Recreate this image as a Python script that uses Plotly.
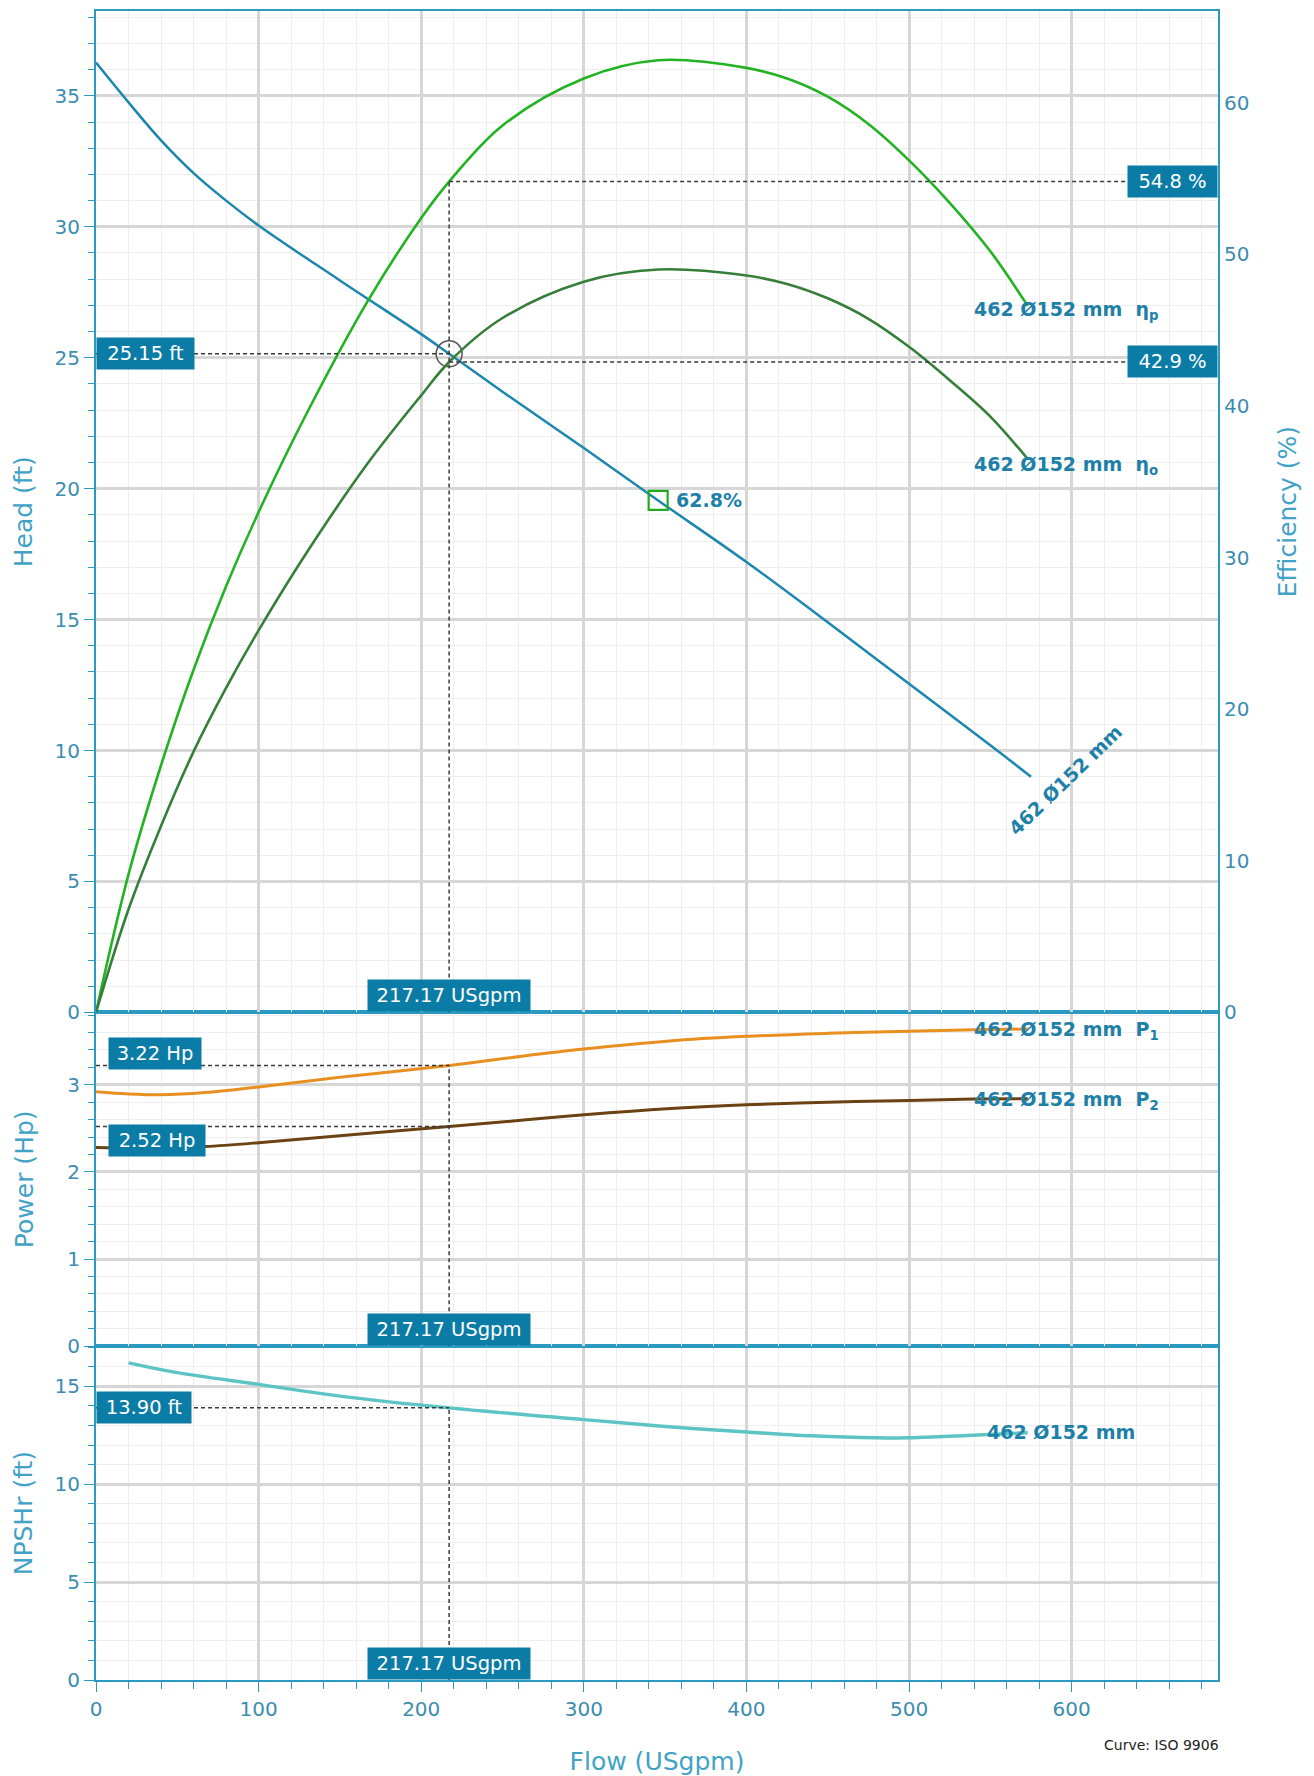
import plotly.graph_objects as go

# ---------------- data ----------------
# Head curve (ft) vs flow (USgpm)
flow_head = [0, 20, 40, 60, 80, 100, 150, 200, 217.17, 250, 300, 345.7, 400, 450, 500, 550, 575]
head_ft = [36.27, 34.75, 33.3, 32.05, 31.0, 30.05, 27.95, 25.9, 25.15, 23.7, 21.55, 19.55, 17.2, 14.9, 12.55, 10.2, 9.0]

# Efficiency curves (%): pump (eta_p) and overall (eta_o)
flow_eff = [0, 20, 40, 60, 80, 100, 130, 167, 200, 217.17, 250, 300, 345.7, 400, 425, 450, 475, 500, 525, 550, 573]
eta_p = [0, 9.1, 16.3, 22.6, 28.1, 33.0, 39.6, 46.9, 52.4, 54.8, 58.5, 61.6, 62.8, 62.3, 61.6, 60.4, 58.6, 56.2, 53.4, 50.2, 46.6]
eta_o = [0, 6.8, 12.3, 17.2, 21.4, 25.2, 30.4, 36.2, 40.7, 42.9, 45.8, 48.2, 49.0, 48.6, 48.05, 47.1, 45.75, 43.9, 41.7, 39.3, 36.5]

# Power curves (Hp): P1 input, P2 shaft
flow_pow = [0, 20, 40, 67, 100, 150, 217.17, 263, 300, 351, 400, 450, 500, 540, 573]
p1_hp = [2.92, 2.895, 2.885, 2.91, 2.975, 3.085, 3.22, 3.33, 3.41, 3.50, 3.555, 3.59, 3.615, 3.63, 3.64]
p2_hp = [2.28, 2.27, 2.27, 2.29, 2.335, 2.415, 2.52, 2.595, 2.655, 2.725, 2.77, 2.80, 2.82, 2.835, 2.84]

# NPSHr curve (ft)
flow_npsh = [20, 50, 100, 150, 217.17, 300, 350, 400, 440, 480, 500, 546, 573]
npsh_ft = [16.2, 15.7, 15.1, 14.5, 13.9, 13.3, 12.95, 12.67, 12.47, 12.37, 12.38, 12.53, 12.63]

# Duty point and best efficiency point
q_op = 217.17
h_op = 25.15
etap_op = 54.8
etao_op = 42.9
p1_op = 3.22
p2_op = 2.52
npsh_op = 13.90
q_bep = 345.7
h_bep = 19.55
eta_bep = 62.8

impeller = "462 Ø152 mm"

# ---------------- styling ----------------
FONT = "DejaVu Sans, Verdana, sans-serif"
AXIS_LINE = "#2a9ac0"
TICK_COL = "#3b8cb0"
TITLE_COL = "#3fa2c6"
BOX_COL = "#0b7ca6"
LABEL_COL = "#1d80a8"
GRID_MAJOR = "#d6d6d6"
GRID_MINOR = "#eeeeee"
DASH_COL = "#3a3a3a"

X_MAX = 690

fig = go.Figure()

line_kw = dict(shape="spline", smoothing=1.0)

fig.add_trace(go.Scatter(x=flow_head, y=head_ft, xaxis="x3", yaxis="y", mode="lines",
                         line=dict(color="#1b87ad", width=2.5, **line_kw), name="Head"))
fig.add_trace(go.Scatter(x=flow_eff, y=eta_p, xaxis="x3", yaxis="y2", mode="lines",
                         line=dict(color="#22b322", width=2.6, **line_kw), name="eta_p"))
fig.add_trace(go.Scatter(x=flow_eff, y=eta_o, xaxis="x3", yaxis="y2", mode="lines",
                         line=dict(color="#357f3a", width=2.6, **line_kw), name="eta_o"))
fig.add_trace(go.Scatter(x=[q_op], y=[h_op], xaxis="x3", yaxis="y", mode="markers",
                         marker=dict(symbol="circle-open", size=26, color="#555555",
                                     line=dict(width=1.5)), name="Duty point"))
fig.add_trace(go.Scatter(x=[q_bep], y=[h_bep], xaxis="x3", yaxis="y", mode="markers",
                         marker=dict(symbol="square-open", size=19, color="#22aa22",
                                     line=dict(width=2.2)), name="BEP"))

fig.add_trace(go.Scatter(x=flow_pow, y=p1_hp, xaxis="x2", yaxis="y3", mode="lines",
                         line=dict(color="#e8901f", width=3, **line_kw), name="P1"))
fig.add_trace(go.Scatter(x=flow_pow, y=p2_hp, xaxis="x2", yaxis="y3", mode="lines",
                         line=dict(color="#6b4212", width=3, **line_kw), name="P2"))

fig.add_trace(go.Scatter(x=flow_npsh, y=npsh_ft, xaxis="x", yaxis="y4", mode="lines",
                         line=dict(color="#5cc4c4", width=3.5, **line_kw), name="NPSHr"))

# ---------------- axes ----------------
tick_font = dict(family=FONT, size=20, color=TICK_COL)
title_font = dict(family=FONT, size=25, color=TITLE_COL)

def x_axis(anchor, labels):
    d = dict(anchor=anchor, range=[0, X_MAX], dtick=100, tick0=0, automargin=False,
             showline=True, mirror=True, linecolor=AXIS_LINE, linewidth=2,
             showgrid=True, gridcolor=GRID_MAJOR, gridwidth=2.5, zeroline=False,
             tickfont=tick_font,
             minor=dict(dtick=20, showgrid=True, gridcolor=GRID_MINOR, gridwidth=1,
                        ticks="outside" if labels else "", ticklen=7, tickcolor=AXIS_LINE))
    if labels:
        d.update(ticks="outside", ticklen=10, tickcolor=AXIS_LINE, showticklabels=True,
                 title=dict(text="Flow (USgpm)", font=title_font, standoff=33))
    else:
        d.update(ticks="", showticklabels=False, matches="x")
    return d

def y_axis(domain, anchor, rng, dtick, minor, title, standoff):
    return dict(domain=domain, anchor=anchor, range=rng, dtick=dtick, tick0=0, automargin=False,
                showline=True, mirror=True, linecolor=AXIS_LINE, linewidth=2,
                showgrid=True, gridcolor=GRID_MAJOR, gridwidth=2.5, zeroline=False,
                ticks="outside", ticklen=10, tickcolor=AXIS_LINE, tickfont=tick_font,
                minor=dict(dtick=minor, showgrid=True, gridcolor=GRID_MINOR, gridwidth=1,
                           ticks="outside", ticklen=6, tickcolor=AXIS_LINE),
                title=dict(text=title, font=title_font, standoff=standoff))

fig.update_layout(
    width=1314, height=1776,
    margin=dict(l=96, r=96, t=11, b=96, autoexpand=False),
    paper_bgcolor="white", plot_bgcolor="white",
    showlegend=False,
    font=dict(family=FONT),
    xaxis=x_axis("y4", True),
    xaxis2=x_axis("y3", False),
    xaxis3=x_axis("y", False),
    yaxis=y_axis([0.4, 1.0], "x3", [0, 38.24], 5, 1, "Head (ft)", 15),
    yaxis2=dict(overlaying="y", side="right", anchor="x3", range=[0, 66.05], dtick=10, tick0=0,
                automargin=False,
                showgrid=False, zeroline=False, showline=True, linecolor=AXIS_LINE, linewidth=2,
                ticks="", tickfont=tick_font,
                title=dict(text="Efficiency (%)", font=title_font, standoff=30)),
    yaxis3=y_axis([0.2, 0.4], "x2", [0, 3.83], 1, 0.2, "Power (Hp)", 27),
    yaxis4=y_axis([0.0, 0.2], "x", [0, 17.05], 5, 1, "NPSHr (ft)", 15),
)

# ---------------- duty point guide lines ----------------
dash = dict(color=DASH_COL, width=1.5, dash="4px,3px")
guides = [
    ("x3", "y", 0, h_op, q_op, h_op),
    ("x3", "y2", q_op, 0, q_op, etap_op),
    ("x3", "y2", q_op, etap_op, X_MAX, etap_op),
    ("x3", "y2", q_op, etao_op, X_MAX, etao_op),
    ("x2", "y3", q_op, 0, q_op, p1_op),
    ("x2", "y3", 0, p1_op, q_op, p1_op),
    ("x2", "y3", 0, p2_op, q_op, p2_op),
    ("x", "y4", q_op, 0, q_op, npsh_op),
    ("x", "y4", 0, npsh_op, q_op, npsh_op),
]
for xr, yr, x0, y0, x1, y1 in guides:
    fig.add_shape(type="line", xref=xr, yref=yr, x0=x0, y0=y0, x1=x1, y1=y1, line=dash)

# ---------------- value boxes ----------------
box_font = dict(family=FONT, size=19.5, color="white")

def box(text, xref, x, xanchor, yref, y, yanchor, width, yshift=0):
    fig.add_annotation(text=text, xref=xref, x=x, xanchor=xanchor, yref=yref, y=y,
                       yanchor=yanchor, yshift=yshift, showarrow=False, font=box_font,
                       bgcolor=BOX_COL, borderpad=2, width=width, height=27, align="center")

box(f"{h_op:.2f} ft", "x3 domain", 0, "left", "y", h_op, "middle", 93)
box(f"{etap_op:.1f} %", "x3 domain", 1, "right", "y2", etap_op, "middle", 85)
box(f"{etao_op:.1f} %", "x3 domain", 1, "right", "y2", etao_op, "middle", 85)
box(f"{p1_op:.2f} Hp", "x2 domain", 0.0107, "left", "y3", p1_op, "bottom", 88, yshift=-4)
box(f"{p2_op:.2f} Hp", "x2 domain", 0.0107, "left", "y3", p2_op, "top", 92, yshift=3)
box(f"{npsh_op:.2f} ft", "x domain", 0, "left", "y4", npsh_op, "middle", 90)
for xr, yr in [("x3", "y domain"), ("x2", "y3 domain"), ("x", "y4 domain")]:
    box(f"{q_op:.2f} USgpm", xr, q_op, "center", yr, 0, "bottom", 158)

# ---------------- curve labels ----------------
lab_font = dict(family=FONT, size=19, color=LABEL_COL)
nb = "\u00a0\u00a0"

def curve_label(text, xref, x, yref, y, xanchor="left", angle=0):
    fig.add_annotation(text=f"<b>{text}</b>", xref=xref, x=x, yref=yref, y=y,
                       xanchor=xanchor, yanchor="middle", textangle=angle,
                       showarrow=False, font=lab_font)

curve_label(impeller, "x3", 596, "y", 8.88, xanchor="center", angle=-44)
curve_label(f"{impeller}{nb}η<sub>p</sub>", "x3", 539, "y2", 46.3)
curve_label(f"{impeller}{nb}η<sub>o</sub>", "x3", 539, "y2", 36.1)
curve_label(f"{eta_bep:.1f}%", "x3", 355.5, "y", h_bep)
curve_label(f"{impeller}{nb}P<sub>1</sub>", "x2", 539, "y3", 3.62)
curve_label(f"{impeller}{nb}P<sub>2</sub>", "x2", 539, "y3", 2.82)
curve_label(impeller, "x", 547, "y4", 12.66)

fig.add_annotation(text="Curve: ISO 9906", xref="paper", x=1.003, xanchor="right",
                   yref="paper", y=-0.039, yanchor="middle", showarrow=False,
                   font=dict(family=FONT, size=14, color="#222222"))

fig.write_html("out.html")
